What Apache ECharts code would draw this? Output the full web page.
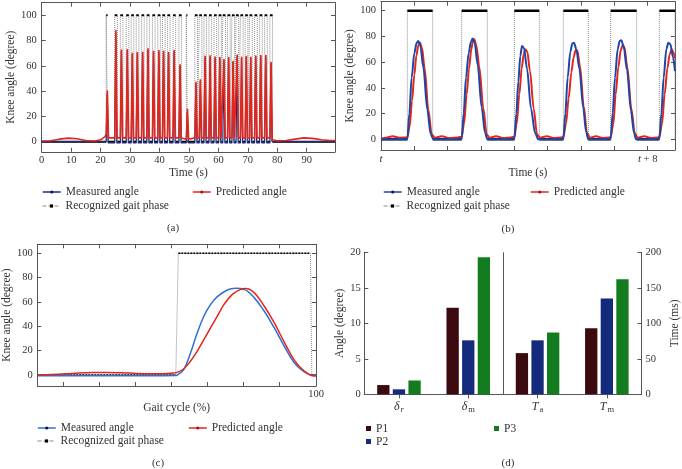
<!DOCTYPE html>
<html><head><meta charset="utf-8">
<script src="https://cdn.jsdelivr.net/npm/echarts@6/dist/echarts.min.js"></script>
<style>html,body{margin:0;padding:0;background:#fff}#c{width:682px;height:469px}</style>
</head><body><div id="c"></div>
<script>
// ---------------- DATA ----------------
// Panel (a): whole trial, time (s) vs knee angle (degree)
const aXTicks = [0, 10, 20, 30, 40, 50, 60, 70, 80, 90];
const angleTicks = [0, 20, 40, 60, 80, 100];
const measuredA = [[0,0],[21.9,0],[22.25,38],[22.6,-1],[24.8,-1],[25.15,86],[25.5,-1],[26.7,-1],[27.05,72],[27.4,-1],[28.7,-1],[29.05,72],[29.4,-1],[30.4,-1],[30.75,69],[31.1,-1],[32.1,-1],[32.45,70],[32.8,-1],[33.9,-1],[34.25,70],[34.6,-1],[35.7,-1],[36.05,72.5],[36.4,-1],[37.6,-1],[37.95,71],[38.3,-1],[39.4,-1],[39.75,71],[40.1,-1],[41.0,-1],[41.35,71],[41.7,-1],[42.7,-1],[43.05,71],[43.4,-1],[44.6,-1],[44.95,71],[45.3,-1],[46.6,-1],[46.95,60],[47.3,-1],[49.1,-1],[49.45,24],[49.8,-1],[52.0,-1],[52.35,46],[52.7,-1],[53.5,-1],[53.85,48],[54.2,-1],[55.1,-1],[55.45,67],[55.8,-1],[56.8,-1],[57.15,67],[57.5,-1],[58.5,-1],[58.85,66],[59.2,-1],[60.1,-1],[60.45,66],[60.8,-1],[61.5,-1],[61.85,64],[62.2,-1],[63.1,-1],[63.45,66],[63.8,-1],[64.6,-1],[64.95,63],[65.3,-1],[66.0,-1],[66.35,67.5],[66.7,-1],[67.5,-1],[67.85,66],[68.2,-1],[69.1,-1],[69.45,67],[69.8,-1],[70.6,-1],[70.95,66],[71.3,-1],[72.3,-1],[72.65,67],[73.0,-1],[74.0,-1],[74.35,67.5],[74.7,-1],[75.7,-1],[76.05,67.5],[76.4,-1],[77.5,-1],[77.85,62],[78.2,0],[99.6,0]];
const predictedA = [[0,0.5],[3,0.8],[6,2],[9,2.8],[12,2.3],[15,1],[18,0.6],[20,1.5],[21.5,4],[21.9,6],[22.3,40.5],[22.7,3],[24.8,3],[25.2,88.4],[25.6,3],[26.7,3],[27.1,73],[27.5,3],[28.7,3],[29.1,73.4],[29.5,3],[30.4,3],[30.8,70.4],[31.2,3],[32.1,3],[32.5,71],[32.9,3],[33.9,3],[34.3,71.2],[34.7,3],[35.7,3],[36.1,73.9],[36.5,3],[37.6,3],[38.0,72],[38.4,3],[39.4,3],[39.8,72.6],[40.2,3],[41.0,3],[41.4,72],[41.8,3],[42.7,3],[43.1,70.7],[43.5,3],[44.6,3],[45.0,72.6],[45.4,3],[46.6,3],[47.0,61.2],[47.4,3],[49.1,2],[49.5,26],[49.9,2],[52.0,3],[52.4,47.5],[52.8,3],[53.5,3],[53.9,49.5],[54.3,3],[55.1,3],[55.5,68],[55.9,3],[56.8,3],[57.2,68.5],[57.6,3],[58.5,3],[58.9,67.5],[59.3,3],[60.1,3],[60.5,67],[60.9,3],[61.5,3],[61.9,65.5],[62.3,3],[63.1,3],[63.5,67],[63.9,3],[64.6,3],[65.0,64],[65.4,3],[66.0,3],[66.4,69],[66.8,3],[67.5,3],[67.9,67.3],[68.3,3],[69.1,3],[69.5,68],[69.9,3],[70.6,3],[71.0,67.3],[71.4,3],[72.3,3],[72.7,68.3],[73.1,3],[74.0,3],[74.4,68.6],[74.8,3],[75.7,3],[76.1,68.6],[76.5,3],[77.5,3],[77.9,63.3],[78.3,1.5],[80,0.8],[83,1],[86,2],[89,3],[92,2.6],[95,1.5],[98,1],[99.6,1]];
// swing-phase intervals (gait phase = 100)
const gaitA = [[21.9,22.4],[24.8,25.7],[26.7,27.6],[28.7,29.6],[30.4,31.3],[32.1,33.0],[33.9,34.8],[35.7,36.6],[37.6,38.5],[39.4,40.3],[41.0,41.9],[42.7,43.6],[44.6,45.5],[46.6,47.5],[49.1,49.5],[52.0,52.9],[53.5,54.4],[55.1,56.0],[56.8,57.7],[58.5,59.4],[60.1,61.0],[61.5,62.4],[63.1,64.0],[64.6,65.5],[66.0,66.9],[67.5,68.4],[69.1,70.0],[70.6,71.5],[72.3,73.2],[74.0,74.9],[75.7,76.6],[77.5,78.4]];

// Panel (b): zoom t .. t+8.8 s
const bXTicks = [0, 1, 2, 3, 4, 5, 6, 7, 8];
const bXLabelValues = [0, 8];
const bXLabels = ['t', 't + 8'];
const measuredB = [[0,0],[0.79,0],[0.85,20],[0.92,48],[1.0,67],[1.07,75],[1.12,76.5],[1.18,73],[1.27,56],[1.39,23],[1.49,4],[1.57,0],
  [2.42,0],[2.48,20],[2.55,48],[2.63,67],[2.70,76],[2.75,78.3],[2.81,75],[2.90,58],[3.02,25],[3.12,5],[3.19,0],
  [4.0,0],[4.06,20],[4.12,45],[4.18,65],[4.23,72.5],[4.29,71],[4.38,55],[4.50,24],[4.62,5],[4.72,0],
  [5.47,0],[5.53,20],[5.60,48],[5.68,68],[5.74,74.5],[5.79,75],[5.86,70],[5.95,55],[6.07,24],[6.15,6],[6.22,0],
  [6.89,0],[6.95,20],[7.02,48],[7.10,70],[7.16,76.5],[7.21,77],[7.28,72],[7.38,54],[7.50,22],[7.59,5],[7.65,0],
  [8.35,0],[8.41,20],[8.48,48],[8.56,70],[8.62,75],[8.68,74],[8.76,64],[8.82,53]];
const predictedB = [[0,0.3],[0.15,1.2],[0.35,2.3],[0.55,1.2],[0.79,1.5],[0.86,10],[0.93,30],[1.0,50],[1.06,65],[1.12,73],[1.17,75.3],[1.23,71],[1.31,55],[1.42,23],[1.52,4],[1.62,1.2],[1.82,2.4],[2.05,1.0],[2.3,1.5],
  [2.42,2],[2.49,12],[2.57,35],[2.64,55],[2.71,70],[2.76,77],[2.80,77.8],[2.86,73],[2.95,56],[3.07,24],[3.17,4],[3.26,1.2],[3.45,2.4],[3.68,1.0],[3.9,1.5],
  [4.0,2],[4.07,12],[4.15,35],[4.22,55],[4.28,66],[4.33,70],[4.39,68],[4.47,53],[4.58,24],[4.68,4],[4.77,1.2],[4.97,2.4],[5.2,1.0],[5.4,1.5],
  [5.47,2],[5.55,12],[5.63,32],[5.71,52],[5.78,64],[5.84,69.5],[5.89,69],[5.97,57],[6.08,26],[6.18,5],[6.27,1.2],[6.45,2.4],[6.65,1.0],[6.85,1.5],
  [6.89,2],[6.97,12],[7.04,35],[7.12,56],[7.19,69],[7.25,73.2],[7.30,72],[7.39,56],[7.51,24],[7.61,5],[7.70,1.2],[7.9,2.4],[8.1,1.0],[8.3,1.5],
  [8.35,2],[8.43,12],[8.51,35],[8.59,55],[8.66,66],[8.72,70],[8.78,67],[8.82,63]];
const gaitB = [[0.79,1.55],[2.42,3.19],[4.0,4.75],[5.47,6.22],[6.89,7.67],[8.35,8.82]];

// Panel (c): one gait cycle (%)
const cXTicks = [9.4, 22.3, 35.2, 48.1, 61.0, 73.9, 86.8, 100];
const cXLabelValues = [100];
const measuredC = [[0,-0.5],[10,-0.5],[20,-0.5],[30,-0.5],[40,-0.5],[49.7,-0.3],[50.2,0],[52.6,4.7],[55,18.4],[57.4,34.8],[59.8,48.5],[62.2,58],[64.6,64.4],[68.2,69.9],[71.2,71.2],[74.2,70.4],[77.8,63.6],[81.4,52.6],[85,38.9],[88.6,23.8],[92.2,10.1],[95.8,2.5],[98.8,0],[100,0]];
const predictedC = [[0,0],[5,0.5],[10,1],[15,1.6],[20,2],[25,2.1],[30,1.8],[35,1.4],[40,1.1],[45,1.1],[48,1.5],[50.2,2.2],[52.6,5.2],[55,11.5],[57.4,19.7],[59.8,29.3],[62.2,38.9],[64.6,48.5],[67,58],[70,66.3],[73,70.4],[74.8,71],[77.8,67.7],[81.4,56.7],[85,43],[88.6,27.1],[92.2,12.3],[95.8,3.3],[99.4,-0.8],[100,-0.8]];
const gaitC = [[0,0],[49.7,0],[50.6,100],[98.0,100],[98.5,0],[100,0]];

// Panel (d): errors
const dCategories = ['δr', 'δm', 'Ta', 'Tm'];
const dAngleTicks = [0, 5, 10, 15, 20];
const dTimeTicks = [0, 50, 100, 150, 200];
const angleP1 = [1.3, 12.2], angleP2 = [0.7, 7.6], angleP3 = [1.95, 19.3];   // degree
const timeP1 = [58, 93], timeP2 = [76, 135], timeP3 = [87, 162];             // ms

// ---------------- HELPERS ----------------
const FONT = 'Liberation Serif', TXT = '#333', FRAME = '#555';
const BLUE_A = '#1b2b7e', BLUE_B = '#1d45a8', BLUE_C = '#2e6fd4', RED = '#e3261b';

function stepFromIntervals(iv, x0, x1) {
  const d = [[x0, 0]];
  iv.forEach(([s, e]) => { d.push([s, 0], [s, 100], [e, 100], [e, 0]); });
  d.push([x1, 0]);
  return d;
}
function flatPieces(pts) {
  const out = [];
  for (let i = 0; i < pts.length - 1; i++) {
    if (pts[i][1] === pts[i + 1][1] && pts[i][0] !== pts[i + 1][0]) {
      out.push(pts[i], pts[i + 1], [pts[i + 1][0], '-']);
    }
  }
  return out;
}
function vAxis(o) {
  const ax = {
    type: 'value', gridIndex: o.grid, position: o.pos, min: o.min, max: o.max,
    axisLine: { show: true, onZero: false, lineStyle: { color: FRAME, width: 1 } },
    axisTick: { show: true, inside: true, length: 4, lineStyle: { color: FRAME }, customValues: o.ticks },
    axisLabel: { show: !!o.labels, margin: o.margin || 4, fontFamily: FONT, fontSize: 10.5, color: TXT },
    splitLine: { show: false }
  };
  if (o.interval) { ax.interval = o.interval; delete ax.axisTick.customValues; }
  if (o.labels) { if (!o.interval) ax.axisLabel.customValues = o.labels; }
  if (o.formatter) ax.axisLabel.formatter = o.formatter;
  if (o.rich) ax.axisLabel.rich = o.rich;
  if (o.name) {
    ax.name = o.name; ax.nameLocation = 'middle'; ax.nameGap = o.nameGap;
    ax.nameTextStyle = { fontFamily: FONT, fontSize: 11.5, color: TXT };
  }
  return ax;
}
function lineSeries(name, data, xi, yi, color, width, extra) {
  return Object.assign({
    type: 'line', name, data, xAxisIndex: xi, yAxisIndex: yi,
    symbol: 'circle', symbolSize: 3, showSymbol: false,
    lineStyle: { color, width }, itemStyle: { color },
    animation: false, silent: true, z: 3
  }, extra || {});
}
function gaitSeries(pts, xi, yi, blackW, blackType) {
  return [
    { type: 'line', name: 'Recognized gait phase', data: pts, xAxisIndex: xi, yAxisIndex: yi,
      symbol: 'rect', symbolSize: 3, showSymbol: false, itemStyle: { color: '#000' },
      lineStyle: { color: '#8a8a8a', width: 1, type: 'dotted' }, animation: false, silent: true, z: 1 },
    { type: 'line', name: 'gait-flat', data: flatPieces(pts), xAxisIndex: xi, yAxisIndex: yi,
      symbol: 'none', connectNulls: false, lineStyle: { color: '#000', width: blackW, type: blackType || 'solid' },
      animation: false, silent: true, z: 2 }
  ];
}
function leg(left, top, item, iw, ih) {
  return { left, top, padding: 0, itemWidth: iw || 18, itemHeight: ih || 4, selectedMode: false,
    textStyle: { fontFamily: FONT, fontSize: 11.5, color: TXT }, data: [item] };
}
function legItems(left1, left2, top1, top2, blue) {
  return [
    leg(left1, top1, { name: 'Measured angle', itemStyle: { color: '#111a55' }, lineStyle: { color: blue, width: 1.5 } }),
    leg(left2, top1, { name: 'Predicted angle', itemStyle: { color: '#b01010' }, lineStyle: { color: RED, width: 1.5 } }),
    leg(left1, top2, { name: 'Recognized gait phase', itemStyle: { color: '#000' }, lineStyle: { color: '#888', width: 1, type: 'dashed' } })
  ];
}

const gaitPtsA = stepFromIntervals(gaitA, 0, 99.6);
const gaitPtsB = stepFromIntervals(gaitB, 0, 8.82);

const catRich = {
  g: { fontFamily: FONT, fontSize: 12, fontStyle: 'italic', color: TXT },
  s: { fontFamily: FONT, fontSize: 8.5, fontStyle: 'italic', color: TXT, padding: [5, 0, 0, 1] },
  m: { fontFamily: FONT, fontSize: 8.5, color: TXT, padding: [5, 0, 0, 1] }
};
const catMarkup = { 'δr': '{g|δ}{s|r}', 'δm': '{g|δ}{m|m}', 'Ta': '{g|T}{m|a}', 'Tm': '{g|T}{m|m}' };

function catAxis(pos, labels) {
  return {
    type: 'category', gridIndex: 3, position: pos, data: dCategories, boundaryGap: true,
    axisLine: { show: true, lineStyle: { color: FRAME } },
    axisTick: { show: true, inside: true, alignWithLabel: true, interval: 0, length: 4, lineStyle: { color: FRAME } },
    axisLabel: labels ? { show: true, interval: 0, margin: 6, formatter: v => catMarkup[v], rich: catRich } : { show: false },
    splitLine: { show: pos === 'bottom', interval: (i) => i % 2 === 0, lineStyle: { color: FRAME, width: 1 } }
  };
}

const barColors = { P1: '#3a0a0e', P2: '#142a7c', P3: '#137c1f' };
const angleVals = { P1: angleP1, P2: angleP2, P3: angleP3 };
const timeVals = { P1: timeP1, P2: timeP2, P3: timeP3 };
const barSeries = [];
['P1', 'P2', 'P3'].forEach(p => {
  const common = { type: 'bar', name: p, stack: p, xAxisIndex: 6, barWidth: 12.3, barGap: '27%',
    itemStyle: { color: barColors[p] }, animation: false, silent: true };
  barSeries.push(Object.assign({}, common, { yAxisIndex: 6, data: angleVals[p].concat(['-', '-']) }));
  barSeries.push(Object.assign({}, common, { yAxisIndex: 7, data: ['-', '-'].concat(timeVals[p]) }));
});

const italicT = { i: { fontFamily: FONT, fontStyle: 'italic', fontSize: 11, color: TXT } };

const option = {
  backgroundColor: '#fff',
  animation: false,
  textStyle: { fontFamily: FONT },
  grid: [
    { left: 41.7, top: 2.7, width: 293.3, height: 149.1 },
    { left: 381, top: 1.7, width: 294, height: 148.3 },
    { left: 37.3, top: 244.3, width: 278.7, height: 141.7 },
    { left: 364.3, top: 252.3, width: 279.4, height: 142 }
  ],
  xAxis: [
    vAxis({ grid: 0, pos: 'bottom', min: 0, max: 99.6, ticks: aXTicks, labels: aXTicks, margin: 3, name: 'Time (s)', nameGap: 15 }),
    vAxis({ grid: 0, pos: 'top', min: 0, max: 99.6, ticks: aXTicks }),
    vAxis({ grid: 1, pos: 'bottom', min: 0, max: 8.82, ticks: bXTicks, labels: bXLabelValues, margin: 4,
      formatter: v => '{i|' + bXLabels[bXLabelValues.indexOf(v)].replace('t', 't}'), rich: italicT, name: 'Time (s)', nameGap: 16.5 }),
    vAxis({ grid: 1, pos: 'top', min: 0, max: 8.82, ticks: bXTicks }),
    vAxis({ grid: 2, pos: 'bottom', min: 0, max: 100, ticks: cXTicks, labels: cXLabelValues, margin: 2.5, name: 'Gait cycle (%)', nameGap: 16 }),
    vAxis({ grid: 2, pos: 'top', min: 0, max: 100, ticks: cXTicks }),
    catAxis('bottom', true),
    catAxis('top', false)
  ],
  yAxis: [
    vAxis({ grid: 0, pos: 'left', min: -8, max: 110, ticks: angleTicks, labels: angleTicks, margin: 5, name: 'Knee angle (degree)', nameGap: 20 }),
    vAxis({ grid: 0, pos: 'right', min: -8, max: 110, ticks: angleTicks }),
    vAxis({ grid: 1, pos: 'left', min: -8.3, max: 107, ticks: angleTicks, labels: angleTicks, margin: 5, name: 'Knee angle (degree)', nameGap: 18.5 }),
    vAxis({ grid: 1, pos: 'right', min: -8.3, max: 107, ticks: angleTicks }),
    vAxis({ grid: 2, pos: 'left', min: -9, max: 107.4, ticks: angleTicks, labels: angleTicks, margin: 4.5, name: 'Knee angle (degree)', nameGap: 22.5 }),
    vAxis({ grid: 2, pos: 'right', min: -9, max: 107.4, ticks: angleTicks }),
    vAxis({ grid: 3, pos: 'left', min: 0, max: 20, interval: 5, labels: dAngleTicks, margin: 3.5, name: 'Angle (degree)', nameGap: 16.5 }),
    vAxis({ grid: 3, pos: 'right', min: 0, max: 200, interval: 50, labels: dTimeTicks, margin: 4, name: 'Time (ms)', nameGap: 27.5 })
  ],
  legend: [].concat(
    legItems(42, 192, 186, 200, BLUE_A),
    legItems(383, 530, 186, 200, BLUE_B),
    legItems(37, 188, 422, 435, BLUE_C),
    [
      leg(366, 422.5, { name: 'P1', icon: 'rect', itemStyle: { color: barColors.P1 } }, 5, 5),
      leg(366, 435.5, { name: 'P2', icon: 'rect', itemStyle: { color: barColors.P2 } }, 5, 5),
      leg(494, 422.5, { name: 'P3', icon: 'rect', itemStyle: { color: barColors.P3 } }, 5, 5)
    ]
  ),
  series: [].concat(
    gaitSeries(gaitPtsA, 0, 0, 2),
    [lineSeries('Measured angle', measuredA, 0, 0, BLUE_A, 1.2),
     lineSeries('Predicted angle', predictedA, 0, 0, RED, 1.6, { z: 4 })],
    gaitSeries(gaitPtsB, 2, 2, 2.5),
    [lineSeries('Predicted angle', predictedB, 2, 2, RED, 2, { smooth: 0.3, smoothMonotone: 'x' }),
     lineSeries('Measured angle', measuredB, 2, 2, BLUE_B, 2, { smooth: 0.3, smoothMonotone: 'x', z: 4 })],
    gaitSeries(gaitC, 4, 4, 1.4, [2, 1]),
    [lineSeries('Measured angle', measuredC, 4, 4, BLUE_C, 1.5, { smooth: 0.4 }),
     lineSeries('Predicted angle', predictedC, 4, 4, RED, 1.5, { smooth: 0.4, z: 4 })],
    barSeries
  ),
  graphic: [
    { type: 'text', x: 173, y: 228, style: { text: '(a)', font: '11px "Liberation Serif"', fill: TXT, align: 'center', verticalAlign: 'middle' } },
    { type: 'text', x: 508, y: 229, style: { text: '(b)', font: '11px "Liberation Serif"', fill: TXT, align: 'center', verticalAlign: 'middle' } },
    { type: 'text', x: 158, y: 463, style: { text: '(c)', font: '11px "Liberation Serif"', fill: TXT, align: 'center', verticalAlign: 'middle' } },
    { type: 'text', x: 508, y: 463, style: { text: '(d)', font: '11px "Liberation Serif"', fill: TXT, align: 'center', verticalAlign: 'middle' } }
  ]
};

const chart = echarts.init(document.getElementById('c'), null, { renderer: 'canvas' });
chart.setOption(option);
</script>
</body></html>
